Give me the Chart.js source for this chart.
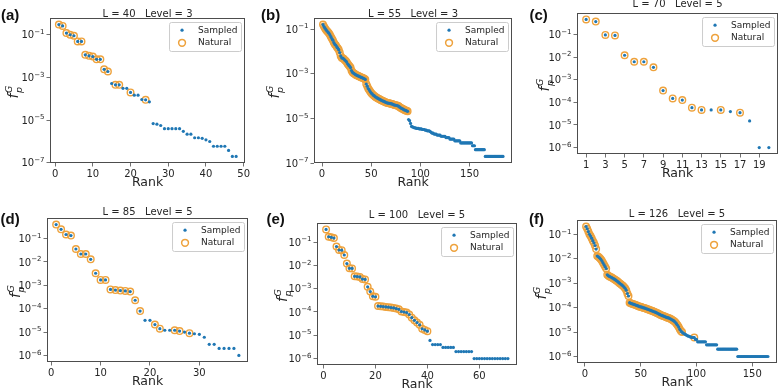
<!DOCTYPE html>
<html>
<head>
<meta charset="utf-8">
<script src="https://cdn.jsdelivr.net/npm/chart.js@4.4.1/dist/chart.umd.min.js"></script>
<style>
  html, body { margin: 0; padding: 0; background: #fff; }
  #wrap { position: relative; width: 779px; height: 389px; overflow: hidden; }
  canvas { position: absolute; }
</style>
</head>
<body>
<div id="wrap">
  <canvas id="pa"></canvas>
  <canvas id="pb"></canvas>
  <canvas id="pc"></canvas>
  <canvas id="pd"></canvas>
  <canvas id="pe"></canvas>
  <canvas id="pf"></canvas>
</div>
<script>
// ---- data (frequency per rank) ----
var sampledA = [0.3, 0.26, 0.12, 0.1, 0.09, 0.049, 0.049, 0.0115, 0.0103, 0.0095,
  0.0071, 0.0071, 0.0024, 0.0019, 0.00052, 0.00045, 0.00045, 0.00031, 0.00031, 0.0002,
  0.000148, 0.000148, 9.3e-5, 9e-5, 7.2e-5, 6.9e-6, 6.5e-6, 5.6e-6, 4e-6, 4e-6,
  4e-6, 4e-6, 4e-6, 3e-6, 2.2e-6, 2.2e-6, 1.5e-6, 1.5e-6, 1.4e-6, 1.2e-6,
  1e-6, 6e-7, 6e-7, 6e-7, 6e-7, 3.8e-7, 2e-7, 2e-7];
var naturalA = [1, 2, 3, 4, 5, 6, 7, 8, 9, 10, 11, 12, 13, 14, 16, 17, 20, 24];

var sampledB = [0.16, 0.13, 0.11, 0.095, 0.083, 0.074, 0.066, 0.056, 0.046, 0.038,
  0.032, 0.025, 0.021, 0.019, 0.016, 0.014, 0.012, 0.0089, 0.0063, 0.0052,
  0.005, 0.0047, 0.0042, 0.0038, 0.0034, 0.0028, 0.0025, 0.0022, 0.0019, 0.0014,
  0.00117, 0.00107, 0.001, 0.00093, 0.00087, 0.00083, 0.00079, 0.00076, 0.00072, 0.00069,
  0.00066, 0.00063, 0.0006, 0.00056, 0.00035, 0.00028, 0.00022, 0.00019, 0.00016, 0.000138,
  0.000126, 0.000112, 0.000105, 9.5e-5, 8.9e-5, 8.3e-5, 7.9e-5, 7.4e-5, 7.1e-5, 6.6e-5,
  6.3e-5, 6.0e-5, 5.8e-5, 5.5e-5, 5.2e-5, 5.0e-5, 4.9e-5, 4.8e-5, 4.7e-5, 4.6e-5,
  4.5e-5, 4.3e-5, 4.1e-5, 4.0e-5, 3.9e-5, 3.8e-5, 3.7e-5, 3.5e-5, 3.2e-5, 3.0e-5,
  2.8e-5, 2.7e-5, 2.5e-5, 2.4e-5, 2.3e-5, 2.2e-5, 2.1e-5,
  9e-6, 8e-6, 6e-6,
  4.4e-6, 4.2e-6, 4e-6, 3.8e-6, 3.8e-6, 3.6e-6, 3.6e-6, 3.6e-6, 3.4e-6, 3.4e-6,
  3.4e-6, 3.2e-6, 3.2e-6, 3.2e-6, 3e-6, 3e-6, 2.8e-6, 2.8e-6, 2.8e-6, 2.6e-6,
  2.4e-6, 2.2e-6, 2.2e-6, 2e-6, 2e-6, 2e-6, 1.8e-6, 1.8e-6, 1.8e-6, 1.8e-6,
  1.6e-6, 1.6e-6, 1.6e-6, 1.6e-6, 1.6e-6, 1.4e-6, 1.4e-6, 1.4e-6, 1.4e-6, 1.2e-6,
  1.2e-6, 1.2e-6, 1.2e-6, 1.2e-6, 1e-6, 1e-6, 1e-6, 1e-6, 1e-6, 1e-6,
  8e-7, 8e-7, 8e-7, 8e-7, 8e-7, 8e-7, 8e-7, 8e-7, 8e-7, 8e-7,
  8e-7, 8e-7, 6e-7, 6e-7, 6e-7, 4e-7, 4e-7, 4e-7, 4e-7, 4e-7,
  4e-7, 4e-7, 4e-7, 4e-7, 4e-7, 2e-7, 2e-7, 2e-7, 2e-7, 2e-7,
  2e-7, 2e-7, 2e-7, 2e-7, 2e-7, 2e-7, 2e-7, 2e-7, 2e-7, 2e-7,
  2e-7, 2e-7, 2e-7, 2e-7];
var naturalB = [1, 2, 3, 4, 5, 6, 7, 8, 9, 10, 11, 12, 13, 14, 15, 16, 17, 18, 19, 20,
  21, 22, 23, 24, 25, 26, 27, 28, 29, 30, 31, 32, 33, 34, 35, 36, 37, 38, 39, 40,
  41, 42, 43, 44, 45, 46, 47, 48, 49, 50, 51, 52, 53, 54, 55, 56, 57, 58, 59, 60,
  61, 62, 63, 64, 65, 66, 67, 68, 69, 70, 71, 72, 73, 74, 75, 76, 77, 78, 79, 80,
  81, 82, 83, 84, 85, 86, 87];

var sampledC = [0.46, 0.37, 0.095, 0.09, 0.012, 0.0062, 0.0062, 0.0035, 0.00033, 0.000148,
  0.000126, 5.8e-5, 4.6e-5, 4.6e-5, 4.6e-5, 3.9e-5, 3.5e-5, 1.5e-5, 1e-6, 1e-6];
var naturalC = [1, 2, 3, 4, 5, 6, 7, 8, 9, 10, 11, 12, 13, 15, 17];

var sampledD = [0.40, 0.25, 0.15, 0.135, 0.036, 0.022, 0.022, 0.013, 0.0033, 0.0017,
  0.0017, 0.00067, 0.00063, 0.0006, 0.00058, 0.00054, 0.00023, 7.9e-5, 3.2e-5, 3.2e-5,
  2.1e-5, 1.4e-5, 1.2e-5, 1.2e-5, 1.2e-5, 1.1e-5, 1e-5, 9e-6, 8.5e-6, 8e-6,
  6e-6, 3e-6, 3e-6, 2e-6, 2e-6, 2e-6, 2e-6, 1e-6];
var naturalD = [1, 2, 3, 4, 5, 6, 7, 8, 9, 10, 11, 12, 13, 14, 15, 16, 17, 18, 21, 22, 25, 26, 28];

var sampledE = [0.35, 0.17, 0.16, 0.15, 0.065, 0.046, 0.045, 0.028, 0.012, 0.0075,
  0.0074, 0.0034, 0.0033, 0.0032, 0.0026, 0.0025, 0.0012, 0.00075, 0.00047, 0.00045,
  0.00018, 0.000175, 0.00017, 0.000165, 0.00016, 0.000155, 0.00015, 0.00014, 0.00013, 0.000105,
  0.0001, 9.4e-5, 7.8e-5, 5.7e-5, 4.4e-5, 3.5e-5, 2.8e-5, 1.9e-5, 1.7e-5, 1.5e-5,
  6e-6, 4e-6, 4e-6, 4e-6, 4e-6, 3e-6, 3e-6, 3e-6, 3e-6, 3e-6,
  2e-6, 2e-6, 2e-6, 2e-6, 2e-6, 2e-6, 2e-6, 1e-6, 1e-6, 1e-6,
  1e-6, 1e-6, 1e-6, 1e-6, 1e-6, 1e-6, 1e-6, 1e-6, 1e-6, 1e-6, 1e-6];
var naturalE = [1, 2, 3, 4, 5, 6, 7, 8, 9, 10, 11, 12, 13, 14, 15, 16, 17, 18, 19, 20,
  21, 22, 23, 24, 25, 26, 27, 28, 29, 30, 31, 32, 33, 34, 35, 36, 37, 38, 39, 40];

var sampledF = [0.21, 0.17, 0.13, 0.1, 0.085, 0.07, 0.055, 0.045, 0.035, 0.025,
  0.013, 0.012, 0.011, 0.0098, 0.0085, 0.007, 0.0058, 0.0048, 0.004, 0.0022,
  0.002, 0.0019, 0.0018, 0.0017, 0.0016, 0.0015, 0.0014, 0.0013, 0.0012, 0.0011,
  0.001, 0.00093, 0.00085, 0.00078, 0.0007, 0.00062, 0.00052, 0.00038, 0.0003, 0.00016,
  0.00015, 0.000145, 0.00014, 0.000135, 0.00013, 0.000125, 0.00012, 0.000115, 0.00011, 0.000108,
  0.000105, 0.0001, 9.7e-5, 9.4e-5, 9e-5, 8.7e-5, 8.4e-5, 8e-5, 7.7e-5, 7.4e-5,
  7.1e-5, 6.8e-5, 6.5e-5, 6.2e-5, 5.9e-5, 5.6e-5, 5.3e-5, 5e-5, 4.8e-5, 4.6e-5,
  4.4e-5, 4.2e-5, 4e-5, 3.9e-5, 3.8e-5, 3.6e-5, 3.4e-5, 3.2e-5, 3e-5, 2.8e-5,
  2.5e-5, 2.2e-5, 1.9e-5, 1.6e-5, 1.3e-5, 1.1e-5, 1e-5, 9e-6, 8.5e-6, 8e-6,
  7.5e-6, 7e-6, 6.8e-6, 6.5e-6, 6.2e-6, 6e-6, 6e-6, 6e-6, 5e-6, 5e-6,
  4e-6, 4e-6, 4e-6, 4e-6, 4e-6, 4e-6, 4e-6, 4e-6,
  3e-6, 3e-6, 3e-6, 3e-6, 3e-6, 3e-6, 3e-6, 3e-6, 3e-6, 3e-6,
  2e-6, 2e-6, 2e-6, 2e-6, 2e-6, 2e-6, 2e-6, 2e-6, 2e-6, 2e-6,
  2e-6, 2e-6, 2e-6, 2e-6, 2e-6, 2e-6, 2e-6, 2e-6,
  1e-6, 1e-6, 1e-6, 1e-6, 1e-6, 1e-6, 1e-6, 1e-6, 1e-6, 1e-6,
  1e-6, 1e-6, 1e-6, 1e-6, 1e-6, 1e-6, 1e-6, 1e-6, 1e-6, 1e-6,
  1e-6, 1e-6, 1e-6, 1e-6, 1e-6, 1e-6, 1e-6, 1e-6];
var naturalF = [1, 2, 3, 4, 5, 6, 7, 8, 9, 10, 11, 12, 13, 14, 15, 16, 17, 18, 19, 20,
  21, 22, 23, 24, 25, 26, 27, 28, 29, 30, 31, 32, 33, 34, 35, 36, 37, 38, 39, 40,
  41, 42, 43, 44, 45, 46, 47, 48, 49, 50, 51, 52, 53, 54, 55, 56, 57, 58, 59, 60,
  61, 62, 63, 64, 65, 66, 67, 68, 69, 70, 71, 72, 73, 74, 75, 76, 77, 78, 79, 80,
  81, 82, 83, 84, 85, 86, 87, 98];

// tick values
var xTicksA = [0, 10, 20, 30, 40, 50];
var xTicksB = [0, 50, 100, 150];
var xTicksC = [1, 3, 5, 7, 9, 11, 13, 15, 17, 19];
var xTicksD = [0, 10, 20, 30];
var xTicksE = [0, 20, 40, 60];
var xTicksF = [0, 50, 100, 150];
var yTicksOdd = [1e-1, 1e-3, 1e-5, 1e-7];
var yTicksAll = [1e-1, 1e-2, 1e-3, 1e-4, 1e-5, 1e-6];

var titles = ["L = 40   Level = 3", "L = 55   Level = 3", "L = 70   Level = 5",
  "L = 85   Level = 5", "L = 100   Level = 5", "L = 126   Level = 5"];
var letters = ["(a)", "(b)", "(c)", "(d)", "(e)", "(f)"];

// ---- layout (page pixels) ----
var panels = [
  { id: "pa", box: [0, 0, 260, 195], plot: [50, 18, 245, 163], titleY: 16.5, letter: [1, 19.5], ylabX: 13,
    sampled: sampledA, natural: naturalA, xTicks: xTicksA, yTicks: yTicksOdd },
  { id: "pb", box: [260, 0, 259, 195], plot: [314, 18, 512, 163], titleY: 16.8, letter: [261, 19.5], ylabX: 274,
    sampled: sampledB, natural: naturalB, xTicks: xTicksB, yTicks: yTicksOdd },
  { id: "pc", box: [519, 0, 260, 195], plot: [577, 13, 778, 154], titleY: 7.3, letter: [529.5, 20], ylabX: 544,
    sampled: sampledC, natural: naturalC, xTicks: xTicksC, yTicks: yTicksAll },
  { id: "pd", box: [0, 195, 260, 194], plot: [47, 218, 248, 362], titleY: 215, letter: [0.5, 224.3], ylabX: 15,
    sampled: sampledD, natural: naturalD, xTicks: xTicksD, yTicks: yTicksAll },
  { id: "pe", box: [260, 195, 259, 194], plot: [317, 223, 517, 365], titleY: 218.3, letter: [266.5, 224.3], ylabX: 282,
    sampled: sampledE, natural: naturalE, xTicks: xTicksE, yTicks: yTicksAll },
  { id: "pf", box: [519, 195, 260, 194], plot: [577, 220, 777, 363], titleY: 216.7, letter: [529, 224.3], ylabX: 541,
    sampled: sampledF, natural: naturalF, xTicks: xTicksF, yTicks: yTicksAll }
];

var BLUE = "#1f77b4", ORANGE = "#eea23c", INK = "#262626", SPINE = "#4d4d4d";

Chart.defaults.font.family = "'DejaVu Sans', sans-serif";
Chart.defaults.color = INK;

// matplotlib-like 5% margins
function logRange(vals) {
  var lo = Math.log10(Math.min.apply(null, vals)), hi = Math.log10(Math.max.apply(null, vals));
  var m = 0.05 * (hi - lo);
  return [Math.pow(10, lo - m), Math.pow(10, hi + m)];
}
function rankRange(n) {
  var m = 0.05 * (n - 1);
  return [1 - m, n + m];
}

var decor = {
  id: "decor",
  afterDatasetsDraw: function (chart) {
    var ca = chart.chartArea, ctx = chart.ctx;
    ctx.save();
    ctx.strokeStyle = SPINE;
    ctx.lineWidth = 1;
    ctx.strokeRect(Math.round(ca.left) + 0.5, Math.round(ca.top) + 0.5,
      Math.round(ca.right - ca.left) - 1, Math.round(ca.bottom - ca.top) - 1);
    ctx.restore();
  },
  afterDraw: function (chart, args, opts) {
    var ca = chart.chartArea, ctx = chart.ctx, p = opts.panel;
    var ox = p.box[0], oy = p.box[1];
    var cx = (ca.left + ca.right) / 2;
    ctx.save();
    ctx.fillStyle = INK;

    // y tick labels as 10^{-n}
    var ys = chart.scales.y;
    ys.ticks.forEach(function (t) {
      var y = ys.getPixelForValue(t.value);
      var e = "\u2212" + String(-Math.round(Math.log10(t.value)));
      ctx.textBaseline = "alphabetic";
      ctx.textAlign = "right";
      ctx.font = "7px 'DejaVu Sans'";
      var ew = ctx.measureText(e).width;
      var xr = ca.left - 5.5;
      ctx.fillText(e, xr, y - 0.8);
      ctx.font = "10px 'DejaVu Sans'";
      ctx.fillText("10", xr - ew, y + 3.6);
    });

    // title
    ctx.font = "10px 'DejaVu Sans'";
    ctx.textAlign = "center";
    ctx.textBaseline = "alphabetic";
    ctx.fillText(opts.title, cx, p.titleY - oy);

    // panel letter
    ctx.fillStyle = "#111";
    ctx.font = "bold 15px 'Liberation Sans'";
    ctx.textAlign = "left";
    ctx.fillText(opts.letter, p.letter[0] - ox, p.letter[1] - oy);

    // x label
    ctx.fillStyle = INK;
    ctx.font = "12.5px 'DejaVu Sans'";
    ctx.textAlign = "center";
    ctx.textBaseline = "middle";
    ctx.fillText("Rank", cx, ca.bottom + 19.5);

    // y label f_p^G
    ctx.save();
    ctx.translate(p.ylabX - ox, (ca.top + ca.bottom) / 2 + 1);
    ctx.rotate(-Math.PI / 2);
    ctx.textAlign = "left";
    ctx.textBaseline = "alphabetic";
    ctx.font = "italic 14px 'DejaVu Sans'";
    ctx.fillText("f", -7, 5);
    ctx.font = "italic 9.5px 'DejaVu Sans'";
    ctx.fillText("G", -1.5, -1.5);
    ctx.fillText("p", -1.5, 8.5);
    ctx.restore();

    // legend
    ctx.font = "9px 'DejaVu Sans'";
    var tw = Math.max(ctx.measureText("Sampled").width, ctx.measureText("Natural").width);
    var bw = 28.5 + tw + 4, bh = 29;
    var bx = ca.right - 3.5 - bw, by = ca.top + 4.5;
    ctx.beginPath();
    ctx.roundRect(bx, by, bw, bh, 2);
    ctx.fillStyle = "rgba(255,255,255,0.8)";
    ctx.fill();
    ctx.strokeStyle = "#cccccc";
    ctx.lineWidth = 1;
    ctx.stroke();
    ctx.beginPath();
    ctx.arc(bx + 12.5, by + 7.7, 1.6, 0, Math.PI * 2);
    ctx.fillStyle = BLUE;
    ctx.fill();
    ctx.beginPath();
    ctx.arc(bx + 12.5, by + 20.3, 3.4, 0, Math.PI * 2);
    ctx.strokeStyle = ORANGE;
    ctx.lineWidth = 1.5;
    ctx.stroke();
    ctx.fillStyle = INK;
    ctx.textAlign = "left";
    ctx.textBaseline = "middle";
    ctx.fillText("Sampled", bx + 28.5, by + 7.7);
    ctx.fillText("Natural", bx + 28.5, by + 20.3);
    ctx.restore();
  }
};

panels.forEach(function (p, k) {
  var cv = document.getElementById(p.id);
  cv.width = p.box[2];
  cv.height = p.box[3];
  cv.style.left = p.box[0] + "px";
  cv.style.top = p.box[1] + "px";

  var vals = p.sampled;
  var xr = rankRange(vals.length), yr = logRange(vals);
  var yAxisW = p.plot[0] - p.box[0];
  var xAxisH = p.box[1] + p.box[3] - p.plot[3];

  new Chart(cv, {
    type: "scatter",
    data: {
      datasets: [
        {
          label: "Sampled",
          data: vals.map(function (v, i) { return { x: i + 1, y: v }; }),
          pointRadius: 1.6,
          pointBackgroundColor: BLUE,
          pointBorderWidth: 0
        },
        {
          label: "Natural",
          data: p.natural.map(function (r) { return { x: r, y: vals[r - 1] }; }),
          pointRadius: 3.3,
          pointBackgroundColor: "rgba(0,0,0,0)",
          pointBorderColor: ORANGE,
          pointBorderWidth: 1.4
        }
      ]
    },
    options: {
      responsive: false,
      animation: false,
      devicePixelRatio: 1,
      events: [],
      layout: {
        autoPadding: false,
        padding: { left: 0, top: p.plot[1] - p.box[1], right: p.box[0] + p.box[2] - p.plot[2], bottom: 0 }
      },
      plugins: {
        legend: { display: false },
        tooltip: { enabled: false },
        decor: { panel: p, title: titles[k], letter: letters[k] }
      },
      scales: {
        x: {
          type: "linear",
          min: xr[0],
          max: xr[1],
          afterFit: function (s) { s.height = xAxisH; },
          afterBuildTicks: function (s) { s.ticks = p.xTicks.map(function (v) { return { value: v }; }); },
          grid: { display: true, drawOnChartArea: false, drawTicks: true, tickLength: 3.5, color: SPINE, lineWidth: 0.8 },
          border: { display: false },
          ticks: { autoSkip: false, maxRotation: 0, padding: 1.5, color: INK, font: { size: 10 },
            callback: function (v) { return String(v); } }
        },
        y: {
          type: "logarithmic",
          min: yr[0],
          max: yr[1],
          afterFit: function (s) { s.width = yAxisW; },
          afterBuildTicks: function (s) { s.ticks = p.yTicks.map(function (v) { return { value: v }; }); },
          grid: { display: true, drawOnChartArea: false, drawTicks: true, tickLength: 3.5, color: SPINE, lineWidth: 0.8 },
          border: { display: false },
          ticks: { autoSkip: false, padding: 2, color: "rgba(0,0,0,0)", font: { size: 10 },
            callback: function (v) { return ""; } }
        }
      }
    },
    plugins: [decor]
  });
});
</script>
</body>
</html>
